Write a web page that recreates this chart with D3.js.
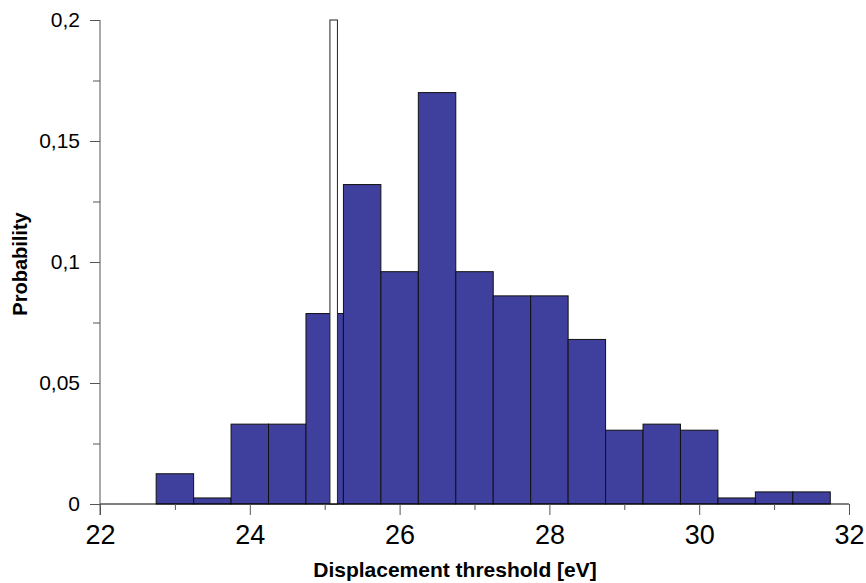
<!DOCTYPE html>
<html>
<head>
<meta charset="utf-8">
<script src="https://cdn.jsdelivr.net/npm/d3@7"></script>
<style>
  body { margin: 0; background: #fff; }
  text { font-family: "Liberation Sans", Arial, sans-serif; fill: #000; }
</style>
</head>
<body>
<div id="vis"></div>
<script>
// histogram bins (centre of bin, bin width 0.5 eV)
const binCenters = [23, 23.5, 24, 24.5, 25, 25.5, 26, 26.5, 27, 27.5, 28, 28.5, 29, 29.5, 30, 30.5, 31, 31.5];
const probability = [0.0125, 0.0025, 0.033, 0.033, 0.0787, 0.132, 0.096, 0.170, 0.096, 0.086, 0.086, 0.068, 0.0305, 0.033, 0.0305, 0.0025, 0.005, 0.005];
const binWidth = 0.5;

// the narrow white reference bar
const refBar = { x0: 25.07, x1: 25.17, p: 0.2 };

const xMajor = [22, 24, 26, 28, 30, 32];
const xMinor = [23, 25, 27, 29, 31];
const yMajor = [0, 0.05, 0.1, 0.15, 0.2];
const yMinor = [0.025, 0.075, 0.125, 0.175];

const W = 866, H = 583;
const margin = { top: 20, left: 100, right: 17, bottom: 79 };

const svg = d3.select('#vis')
  .append('svg')
  .attr('width', W)
  .attr('height', H);

const x = d3.scaleLinear().domain([22, 32]).range([margin.left, W - margin.right]);
const y = d3.scaleLinear().domain([0, 0.2]).range([H - margin.bottom, margin.top]);

const fmt = d => String(d).replace('.', ',');

// bars
svg.selectAll('rect.bin')
  .data(binCenters)
  .enter()
  .append('rect')
    .attr('class', 'bin')
    .attr('x', d => x(d - binWidth / 2))
    .attr('y', (d, i) => y(probability[i]))
    .attr('width', x(binWidth) - x(0))
    .attr('height', (d, i) => y(0) - y(probability[i]))
    .attr('fill', '#3f3f9d')
    .attr('stroke', '#111')
    .attr('stroke-width', 1);

svg.append('rect')
  .attr('x', x(refBar.x0))
  .attr('y', y(refBar.p))
  .attr('width', x(refBar.x1) - x(refBar.x0))
  .attr('height', y(0) - y(refBar.p))
  .attr('fill', '#fff')
  .attr('stroke', '#222')
  .attr('stroke-width', 1);

// x axis
const xAxis = svg.append('g')
  .attr('transform', `translate(0, ${y(0)})`)
  .call(d3.axisBottom(x).tickValues(xMajor).tickSize(11).tickPadding(10).tickFormat(d3.format('d')));
svg.append('g')
  .attr('transform', `translate(0, ${y(0)})`)
  .call(d3.axisBottom(x).tickValues(xMinor).tickSize(6).tickFormat(''))
  .select('.domain').remove();
xAxis.select('.domain').attr('d', `M${x(22)},0H${x(32)}`).attr('stroke', '#000');
xAxis.selectAll('.tick line').attr('stroke', '#555');
xAxis.selectAll('text').style('font-size', '27px').attr('fill', '#000');

// y axis
const yAxis = svg.append('g')
  .attr('transform', `translate(${x(22)}, 0)`)
  .call(d3.axisLeft(y).tickValues(yMajor).tickSize(10).tickPadding(10).tickFormat(fmt));
svg.append('g')
  .attr('transform', `translate(${x(22)}, 0)`)
  .call(d3.axisLeft(y).tickValues(yMinor).tickSize(7).tickFormat(''))
  .select('.domain').remove();
yAxis.select('.domain').attr('d', `M0,${y(0.2)}V${y(0) + 11}`).attr('stroke', '#555');
yAxis.selectAll('.tick line').attr('stroke', '#555');
yAxis.selectAll('text').style('font-size', '21px').attr('fill', '#000');
svg.selectAll('.tick line').attr('stroke', '#555');

// axis titles
svg.append('text')
  .attr('text-anchor', 'middle')
  .attr('x', 455)
  .attr('y', 577)
  .style('font-size', '21px')
  .style('font-weight', 'bold')
  .text('Displacement threshold [eV]');

svg.append('text')
  .attr('text-anchor', 'middle')
  .attr('transform', 'translate(27, 264) rotate(-90)')
  .style('font-size', '20px')
  .style('font-weight', 'bold')
  .text('Probability');
</script>
</body>
</html>
